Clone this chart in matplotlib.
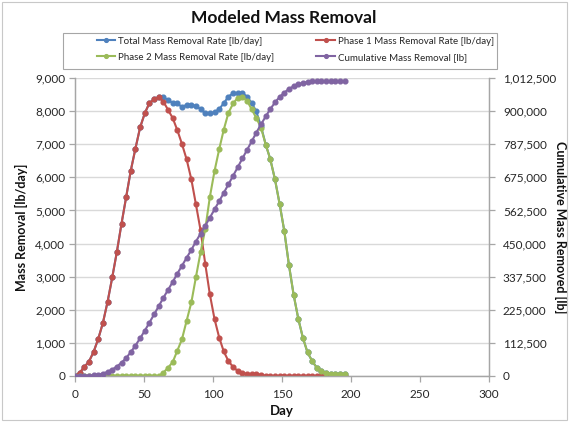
import matplotlib
matplotlib.use("Agg")
import matplotlib.pyplot as plt
from matplotlib.ticker import FuncFormatter, MultipleLocator
from matplotlib.patches import Rectangle

plt.rcParams['font.family'] = ['Lato', 'DejaVu Sans']

# ---- data ----
days = [0.0, 3.4, 6.7, 10.1, 13.5, 16.9, 20.2, 23.6, 27.0, 30.3,
        33.7, 37.1, 40.4, 43.8, 47.2, 50.6, 53.9, 57.3, 60.7, 64.0,
        67.4, 70.8, 74.1, 77.5, 80.9, 84.3, 87.6, 91.0, 94.4, 97.7,
        101.1, 104.5, 107.8, 111.2, 114.6, 118.0, 121.3, 124.7, 128.1, 131.4,
        134.8, 138.2, 141.5, 144.9, 148.3, 151.7, 155.0, 158.4, 161.8, 165.1,
        168.5, 171.9, 175.2, 178.6, 182.0, 185.4, 188.7, 192.1, 195.5]

phase1 = [0, 100, 270, 435, 730, 1130, 1600, 2240, 2980, 3740,
          4600, 5410, 6200, 6870, 7510, 7940, 8240, 8360, 8420, 8290,
          8040, 7790, 7430, 7010, 6540, 5940, 5190, 4400, 3380, 2470,
          1720, 1160, 740, 450, 270, 150, 90, 60, 50, 50,
          40, 0, 0, 0, 0, 0, 0, 0, 0, 0,
          0, 0, 0, 0, 0, 0, 0, 0, 0]

phase2 = [0, 0, 0, 0, 0, 0, 0, 0, 0, 0,
          0, 0, 0, 0, 0, 0, 0, 0, 0, 100,
          250, 420, 760, 1110, 1670, 2220, 2980, 3740, 4440, 5400,
          6190, 6850, 7440, 7950, 8230, 8410, 8430, 8310, 8050, 7790,
          7500, 6990, 6550, 5940, 5190, 4370, 3360, 2460, 1730, 1160,
          710, 450, 250, 140, 90, 70, 60, 60, 60]

total = [0, 100, 270, 435, 730, 1130, 1600, 2240, 2980, 3740,
         4600, 5410, 6200, 6870, 7510, 7940, 8240, 8360, 8420, 8420,
         8340, 8240, 8240, 8120, 8190, 8190, 8160, 8060, 7940, 7940,
         7960, 8060, 8240, 8440, 8540, 8540, 8540, 8440, 8240, 7990,
         7540, 6990, 6550, 5940, 5190, 4370, 3360, 2460, 1730, 1160,
         710, 450, 250, 140, 90, 70, 60, 60, 60]

cumulative = [0, 100, 300, 900, 2300, 4700, 8400, 14100, 21900, 32100,
              45000, 61300, 81000, 103500, 128300, 154100, 181100, 209300, 237400, 265500,
              292500, 319500, 347600, 374600, 401600, 428600, 456800, 483800, 510800, 537800,
              565900, 594000, 622100, 651400, 680600, 709900, 739100, 768400, 797600, 826900,
              855000, 882000, 906800, 929300, 948400, 963000, 975400, 984400, 991100, 995600,
              999000, 1000700, 1001800, 1002400, 1002400, 1002400, 1002400, 1002400, 1002400]

labels = ["Total Mass Removal Rate [lb/day]", "Phase 1 Mass Removal Rate [lb/day]",
          "Phase 2 Mass Removal Rate [lb/day]", "Cumulative Mass Removal [lb]"]
colors = ["#4F81BD", "#C0504D", "#9BBB59", "#8064A2"]

W, H = 569, 422
fig = plt.figure(figsize=(W / 100, H / 100), dpi=100)
fig.patch.set_facecolor("white")
fig.add_artist(Rectangle((2 / W, 2 / H), (W - 4) / W, (H - 4) / H, transform=fig.transFigure,
                         fill=False, edgecolor="#C8C8C8", linewidth=0.8))

ax = fig.add_axes([75 / W, 1 - 376 / H, (489 - 75) / W, (376 - 78) / H])
ax2 = ax.twinx()

mk = dict(marker="o", markersize=3.4, linewidth=1.5)
h_tot, = ax.plot(days, total, color=colors[0], label=labels[0], zorder=2, **mk)
h_p1, = ax.plot(days, phase1, color=colors[1], label=labels[1], zorder=3, **mk)
h_p2, = ax.plot(days, phase2, color=colors[2], label=labels[2], zorder=4, **mk)
h_cum, = ax2.plot(days, cumulative, color=colors[3], label=labels[3], zorder=5, **mk)

ax.set_xlim(0, 300)
ax.set_ylim(0, 9000)
ax2.set_ylim(0, 1012500)
ax.xaxis.set_major_locator(MultipleLocator(50))
ax.yaxis.set_major_locator(MultipleLocator(1000))
ax2.yaxis.set_major_locator(MultipleLocator(112500))
fmt = FuncFormatter(lambda v, p: f"{int(round(v)):,}")
ax.yaxis.set_major_formatter(fmt)
ax2.yaxis.set_major_formatter(fmt)

ax.grid(axis="y", color="#D9D9D9", linewidth=1.0)
ax.set_axisbelow(True)
for a in (ax, ax2):
    for s in a.spines.values():
        s.set_color("#A6A6A6")
        s.set_linewidth(0.9)
ax.spines["top"].set_visible(False)
ax2.spines["top"].set_visible(False)

tick_kw = dict(labelsize=8.5, colors="#A6A6A6", labelcolor="#262626", length=4, width=0.9)
ax.tick_params(axis="both", direction="out", pad=3, **tick_kw)
ax.tick_params(axis="x", pad=5)
ax2.tick_params(axis="y", direction="out", pad=6, **tick_kw)

ax.set_xlabel("Day", fontsize=9.5, fontweight="bold", color="#111111", labelpad=4)
ax.set_ylabel("Mass Removal [lb/day]", fontsize=9, fontweight="bold", color="#111111", labelpad=5)
ax2.set_ylabel("Cumulative Mass Removed [lb]", fontsize=9, fontweight="bold", color="#111111",
               rotation=-90, labelpad=8)

fig.text(284 / W, 1 - 18 / H, "Modeled Mass Removal", ha="center", va="center",
         fontsize=12.5, fontweight="bold", color="#111111")

# legend frame and entries
fig.add_artist(Rectangle((63 / W, 1 - 69 / H), (497 - 63) / W, 36 / H, transform=fig.transFigure,
                         fill=False, edgecolor="#A6A6A6", linewidth=0.8))
leg = fig.legend([h_tot, h_p2, h_p1, h_cum], [labels[0], labels[2], labels[1], labels[3]],
                 ncol=2, loc="upper left", bbox_to_anchor=(97 / W, 1 - 36.5 / H),
                 fontsize=7, frameon=False, handlelength=1.9, handletextpad=0.3,
                 borderpad=0, labelspacing=0.75, columnspacing=4.3,
                 markerscale=0.8, borderaxespad=0)
for t in leg.get_texts():
    t.set_color("#262626")

fig.savefig("out.png", dpi=100)
